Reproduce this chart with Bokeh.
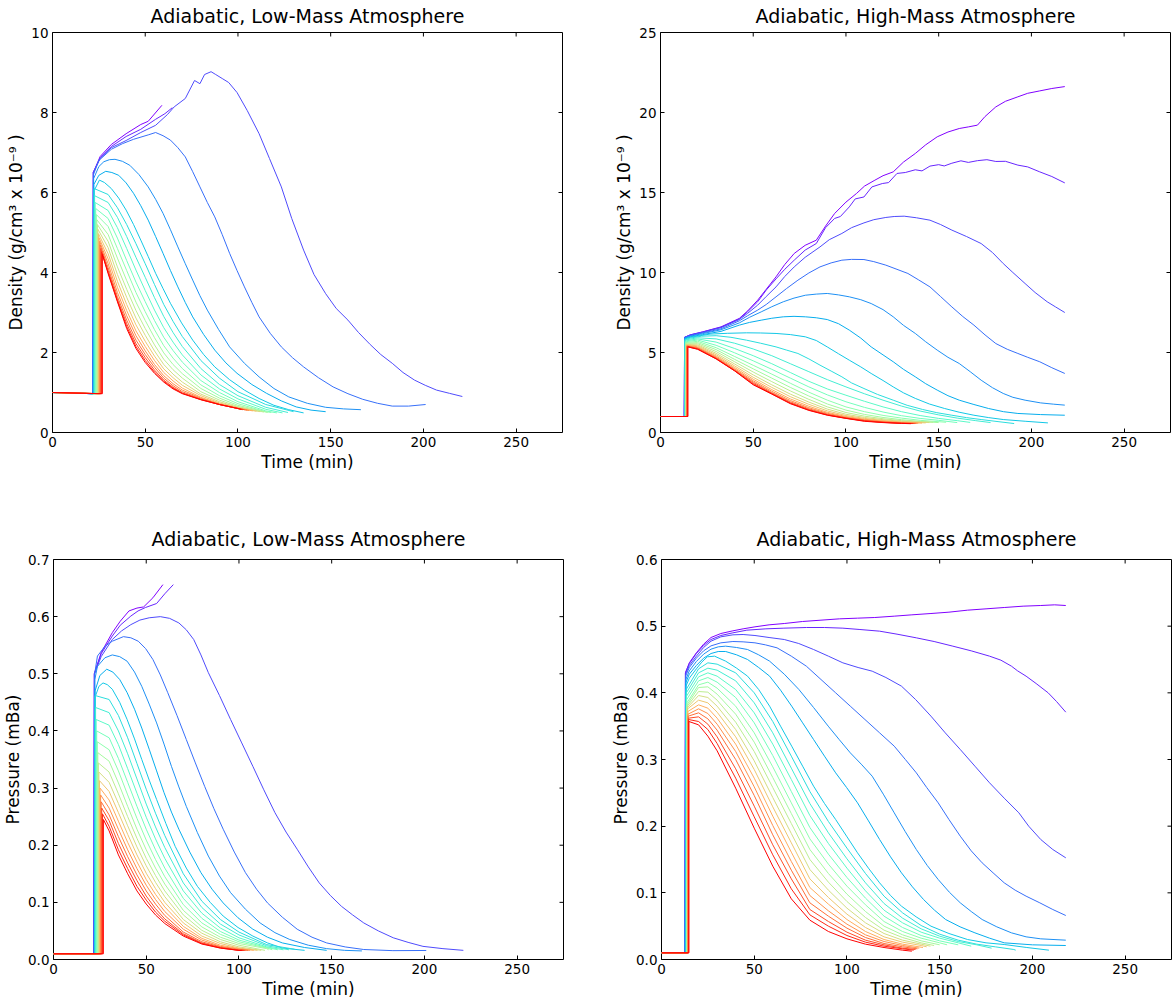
import math
from bokeh.plotting import figure
from bokeh.layouts import column, row
from bokeh.models import Range1d, FixedTicker, NumeralTickFormatter
from bokeh.embed import file_html
from bokeh.resources import INLINE

# ---------------- shared axis data ----------------
TIME_TICKS = [0, 50, 100, 150, 200, 250]
TIME_MAX = 275
TITLES = ["Adiabatic, Low-Mass Atmosphere", "Adiabatic, High-Mass Atmosphere",
          "Adiabatic, Low-Mass Atmosphere", "Adiabatic, High-Mass Atmosphere"]
XLABEL = "Time (min)"
DENSITY_LABEL = "Density (g/cm\u00b3 x 10\u207b\u2079 )"
PRESSURE_LABEL = "Pressure (mBa)"
LD_YTICKS = [0, 2, 4, 6, 8, 10]
HD_YTICKS = [0, 5, 10, 15, 20, 25]
LP_YTICKS = [0.0, 0.1, 0.2, 0.3, 0.4, 0.5, 0.6, 0.7]
HP_YTICKS = [0.0, 0.1, 0.2, 0.3, 0.4, 0.5, 0.6]

# ---------------- low-mass density: leading curves (time, value) ----------------
LD_LEAD = [
    [(0, 1.0), (21.7, 0.97), (22.0, 6.5), (25.7, 6.9), (31.7, 7.2), (39.7, 7.47), (47.6, 7.7), (51.6, 7.78), (59.0, 8.18)],
    [(0, 1.0), (21.7, 0.97), (22.0, 6.5), (25.7, 6.87), (31.7, 7.15), (39.7, 7.4), (47.6, 7.58), (55.6, 7.83), (60.6, 7.97), (64.6, 8.12)],
    [(0, 1.0), (21.7, 0.97), (22.0, 6.5), (25.7, 6.85), (31.7, 7.12), (39.7, 7.3), (47.6, 7.5), (55.6, 7.68), (62, 7.95), (65.6, 8.14),
     (71.6, 8.35), (76.6, 8.8), (79.5, 8.72), (82, 8.95), (85.5, 9.02), (88, 8.95), (91.5, 8.85), (95, 8.75), (99.5, 8.5), (105, 8.05),
     (111.4, 7.47), (117, 6.85), (123.4, 6.14), (129, 5.35), (135.4, 4.56), (141, 3.95), (147.3, 3.47), (153, 3.1), (159.3, 2.81),
     (165, 2.5), (171.3, 2.2), (177, 1.95), (183.2, 1.73), (189, 1.5), (195.2, 1.31), (201, 1.18), (207.1, 1.06), (214, 0.98), (221, 0.9)],
    [(0, 1.0), (21.8, 0.97), (22.1, 6.45), (25, 6.8), (31.7, 7.08), (37.7, 7.22), (43.7, 7.33), (51.6, 7.44), (55.6, 7.5), (59.6, 7.42),
     (63.6, 7.31), (67.6, 7.12), (71.6, 6.89), (75.6, 6.52), (79.5, 6.14), (83.5, 5.75), (87.5, 5.39), (91.5, 4.95), (95.5, 4.48),
     (99.5, 4.05), (103.5, 3.64), (107.5, 3.25), (111.4, 2.89), (117.4, 2.48), (123.4, 2.14), (129.4, 1.87), (135.4, 1.64),
     (143.4, 1.37), (151.3, 1.14), (159.3, 0.97), (167.3, 0.83), (175.3, 0.73), (183.2, 0.66), (192, 0.66), (201.2, 0.70)],
    [(0, 1.0), (21.9, 0.97), (22.2, 6.35), (25, 6.65), (27.7, 6.77), (30.7, 6.82), (33.7, 6.83), (37.7, 6.78), (41.7, 6.68), (46.6, 6.45),
     (51.6, 6.14), (55.6, 5.83), (59.6, 5.48), (63.6, 5.07), (67.6, 4.64), (71.6, 4.22), (75.6, 3.81), (79.5, 3.42), (83.5, 3.06),
     (89.5, 2.58), (95.5, 2.14), (103.5, 1.73), (111.4, 1.39), (119.4, 1.1), (127.4, 0.89), (137.4, 0.73), (147.3, 0.63), (157, 0.59), (166.3, 0.57)],
    [(0, 1.0), (22.0, 0.97), (22.3, 6.2), (25, 6.43), (28.7, 6.53), (32, 6.5), (35.7, 6.43), (39.7, 6.24), (43.7, 5.98), (47.6, 5.67),
     (51.6, 5.31), (55.6, 4.9), (59.6, 4.48), (63.6, 4.05), (67.6, 3.64), (71.6, 3.25), (75.6, 2.89), (81.5, 2.45), (87.5, 2.06),
     (93.5, 1.74), (99.5, 1.48), (107.5, 1.2), (115.4, 0.98), (123.4, 0.79), (131.4, 0.64), (139.4, 0.56), (147.3, 0.52)],
    [(0, 1.0), (22.2, 0.97), (22.5, 6.05), (25.3, 6.31), (28, 6.25), (31.7, 6.1), (35.7, 5.86), (39.7, 5.56), (43.7, 5.2), (47.6, 4.81),
     (51.6, 4.4), (55.6, 3.98), (59.6, 3.6), (63.6, 3.23), (69.6, 2.74), (75.6, 2.31), (81.5, 1.95), (87.5, 1.64), (95.5, 1.32),
     (103.5, 1.06), (111.4, 0.85), (119.4, 0.68), (127.4, 0.57), (135.4, 0.49)],
]
LD_BASE = (1.0, 0.97)
LD_GRID = [30, 35, 40, 45, 50, 55, 60, 65, 70, 80, 90, 100, 115]
# (jump time, value right after jump, values on LD_GRID, (end time, end value))
LD_BUNDLE = [
    (22.4, 6.10, [5.95, 5.62, 5.20, 4.72, 4.22, 3.70, 3.20, 2.78, 2.40, 1.80, 1.36, 1.02, 0.70], (130, 0.52)),
    (22.7, 5.92, [5.75, 5.38, 4.90, 4.38, 3.88, 3.37, 2.90, 2.50, 2.15, 1.60, 1.20, 0.92, 0.63], (127, 0.50)),
    (23.0, 5.75, [5.55, 5.12, 4.60, 4.06, 3.55, 3.06, 2.62, 2.26, 1.94, 1.44, 1.09, 0.84, 0.58], (124, 0.49)),
    (23.3, 5.60, [5.35, 4.86, 4.30, 3.76, 3.27, 2.80, 2.38, 2.05, 1.76, 1.30, 1.00, 0.77, 0.54], (121, 0.49)),
    (23.6, 5.45, [5.15, 4.60, 4.05, 3.50, 3.02, 2.57, 2.17, 1.86, 1.60, 1.19, 0.92, 0.72, 0.52], (118, 0.50)),
    (23.9, 5.32, [4.95, 4.36, 3.80, 3.26, 2.80, 2.37, 1.99, 1.70, 1.47, 1.10, 0.86, 0.68], (116, 0.50)),
    (24.2, 5.20, [4.78, 4.14, 3.58, 3.05, 2.60, 2.19, 1.83, 1.57, 1.36, 1.02, 0.81, 0.65], (114, 0.51)),
    (24.5, 5.08, [4.62, 3.95, 3.38, 2.86, 2.43, 2.04, 1.70, 1.46, 1.26, 0.96, 0.77, 0.63], (112, 0.52)),
    (24.8, 4.97, [4.47, 3.78, 3.20, 2.69, 2.28, 1.91, 1.59, 1.37, 1.18, 0.92, 0.74, 0.62], (110, 0.53)),
    (25.1, 4.87, [4.34, 3.63, 3.05, 2.54, 2.15, 1.80, 1.50, 1.29, 1.11, 0.88, 0.72, 0.61], (108, 0.54)),
    (25.4, 4.78, [4.22, 3.50, 2.92, 2.42, 2.04, 1.70, 1.42, 1.22, 1.06, 0.86, 0.71, 0.60], (106, 0.55)),
    (25.7, 4.69, [4.12, 3.40, 2.81, 2.31, 1.95, 1.63, 1.36, 1.17, 1.02, 0.84, 0.70, 0.60], (105, 0.56)),
    (26.0, 4.60, [4.05, 3.33, 2.72, 2.22, 1.87, 1.56, 1.31, 1.13, 0.99, 0.83, 0.70, 0.60], (103.5, 0.57)),
    (26.4, 4.52, [4.00, 3.29, 2.65, 2.15, 1.80, 1.51, 1.28, 1.11, 0.98, 0.82, 0.70, 0.60], (102.5, 0.57)),
    (26.9, 4.45, [3.97, 3.27, 2.60, 2.10, 1.75, 1.48, 1.26, 1.09, 0.97, 0.82, 0.70, 0.60], (101.5, 0.58)),
]

# ---------------- high-mass density ----------------
HD_LEAD = [
    [(0, 1.0), (12.8, 1.0), (13.0, 5.95), (16, 6.1), (22.7, 6.29), (32.6, 6.6), (42.5, 7.13), (47, 7.6), (52.4, 8.27), (57, 8.95),
     (62.3, 9.73), (67, 10.5), (72.1, 11.19), (78, 11.7), (84, 12.02), (89, 12.9), (93.9, 13.69), (100, 14.4), (105.7, 14.94),
     (110, 15.4), (115.6, 15.77), (120, 16.05), (125.5, 16.29), (131, 16.9), (137.4, 17.44), (143, 17.98), (149.2, 18.48),
     (155, 18.78), (161.1, 19.0), (166, 19.1), (170.9, 19.21), (175, 19.75), (180.8, 20.35), (186, 20.7), (192.7, 20.98),
     (198, 21.2), (204.5, 21.35), (211, 21.5), (218, 21.62)],
    [(0, 1.0), (12.8, 1.0), (13.0, 5.95), (16, 6.1), (22.7, 6.28), (32.6, 6.58), (42.5, 7.1), (47, 7.55), (52.4, 8.17), (57, 8.9),
     (62.3, 9.6), (67, 10.2), (72.1, 10.77), (78, 11.4), (84, 11.81), (89, 12.8), (93.9, 13.38), (97, 13.5), (101.8, 14.1),
     (105, 14.6), (109.7, 14.72), (114, 15.35), (119.6, 15.56), (123, 15.62), (127.5, 16.19), (132, 16.25), (137.4, 16.42),
     (141, 16.35), (145.3, 16.65), (150, 16.74), (153, 16.66), (157.1, 16.83), (162, 16.98), (166, 16.88), (170.9, 16.99),
     (176, 17.05), (180.8, 16.94), (186, 16.95), (192.7, 16.71), (198, 16.6), (204.5, 16.29), (211, 16.0), (218, 15.6)],
    [(0, 1.0), (12.8, 1.0), (13.0, 5.95), (16, 6.08), (22.7, 6.26), (32.6, 6.55), (42.5, 7.06), (47, 7.45), (52.4, 7.96), (57, 8.5),
     (62.3, 9.1), (67, 9.75), (72.1, 10.35), (78, 10.95), (86, 11.6), (91, 12.05), (97.8, 12.44), (103, 12.8), (109.7, 13.1),
     (115, 13.3), (121.5, 13.44), (126, 13.5), (131.4, 13.52), (138, 13.42), (145.3, 13.27), (151, 13.0), (157.1, 12.65),
     (165, 12.25), (172.9, 11.81), (179, 11.25), (184.8, 10.56), (190, 10.0), (196.6, 9.31), (202, 8.75), (208.5, 8.17),
     (213, 7.85), (218, 7.5)],
    [(0, 1.0), (12.9, 1.0), (13.1, 5.93), (16, 6.05), (22.7, 6.22), (32.6, 6.48), (42.5, 6.98), (47, 7.3), (52.4, 7.65), (57, 8.0),
     (62.3, 8.48), (68, 9.0), (74.1, 9.52), (80, 9.97), (86, 10.35), (92, 10.6), (97.8, 10.77), (103, 10.82), (109.7, 10.81),
     (115, 10.68), (121.5, 10.46), (127, 10.22), (133.4, 9.94), (139, 9.55), (145.3, 9.1), (151, 8.5), (157.1, 7.85), (163, 7.25),
     (169, 6.71), (175, 6.1), (180.8, 5.56), (187, 5.2), (192.7, 4.94), (198, 4.7), (204.5, 4.42), (211, 4.05), (218, 3.69)],
    [(0, 1.0), (12.9, 1.0), (13.1, 5.9), (16, 6.02), (22.7, 6.18), (32.6, 6.42), (42.5, 6.85), (48, 7.2), (54.3, 7.54), (60, 7.86),
     (66.2, 8.17), (72, 8.4), (78.1, 8.58), (84, 8.65), (89.9, 8.69), (96, 8.6), (101.8, 8.48), (108, 8.3), (113.6, 8.06), (120, 7.68),
     (125.5, 7.23), (131, 6.7), (137.4, 6.19), (143, 5.67), (149.2, 5.15), (155, 4.7), (161.1, 4.31), (167, 3.8), (172.9, 3.27),
     (179, 2.8), (184.8, 2.44), (190, 2.2), (196.6, 2.02), (205, 1.85), (212, 1.77), (218, 1.71)],
    [(0, 1.0), (13.0, 1.0), (13.2, 5.88), (16, 5.98), (22.7, 6.12), (32.6, 6.32), (42.5, 6.71), (48, 6.88), (54.3, 7.02), (60, 7.14),
     (66.2, 7.23), (72, 7.26), (78.1, 7.23), (84, 7.17), (89.9, 7.06), (96, 6.8), (101.8, 6.4), (108, 5.9), (113.6, 5.35), (120, 4.85),
     (125.5, 4.42), (131, 3.95), (137.4, 3.48), (143, 3.05), (149.2, 2.65), (155, 2.3), (161.1, 2.02), (169, 1.75), (176.9, 1.5),
     (185, 1.3), (192.7, 1.19), (205, 1.12), (218, 1.08)],
    [(0, 1.0), (13.0, 1.0), (13.2, 5.85), (16, 5.95), (26.7, 6.15), (36, 6.2), (46.4, 6.23), (54, 6.22), (62.3, 6.19), (70, 6.12),
     (78.1, 5.98), (84, 5.75), (89.9, 5.35), (96, 4.92), (101.8, 4.52), (108, 4.1), (113.6, 3.69), (120, 3.25), (125.5, 2.85),
     (131, 2.48), (137.4, 2.13), (145, 1.78), (153.2, 1.5), (161, 1.27), (169, 1.08), (177, 0.93), (184.8, 0.81), (197, 0.7), (208.9, 0.6)],
    [(0, 1.0), (13.1, 1.0), (13.3, 5.8), (16, 5.9), (22, 6.02), (30, 6.05), (38, 5.95), (46.4, 5.77), (54, 5.58), (62.3, 5.35),
     (68, 5.15), (74.1, 4.94), (80, 4.6), (86, 4.21), (92, 3.84), (97.8, 3.48), (103, 3.1), (109.7, 2.75), (117, 2.38), (125.5, 2.02),
     (133, 1.7), (141.3, 1.44), (149, 1.24), (157.1, 1.08), (165, 0.93), (172.9, 0.81), (182, 0.68), (190.7, 0.56)],
]
HD_BASE = (1.0, 1.0)
HD_GRID = [20, 30, 40, 50, 60, 70, 80, 90, 100, 110, 120, 130, 140, 150, 160, 170]
HD_BUNDLE = [
    (13.3, 5.78, [5.92, 5.85, 5.58, 5.22, 4.80, 4.30, 3.80, 3.30, 2.85, 2.42, 2.02, 1.65, 1.34, 1.10, 0.90, 0.74], (178, 0.62)),
    (13.4, 5.72, [5.85, 5.65, 5.25, 4.80, 4.30, 3.75, 3.20, 2.72, 2.33, 1.95, 1.60, 1.30, 1.06, 0.88, 0.74], (167, 0.63)),
    (13.5, 5.67, [5.78, 5.45, 4.98, 4.48, 3.95, 3.40, 2.85, 2.35, 1.92, 1.57, 1.28, 1.05, 0.88, 0.76], (160, 0.62)),
    (13.6, 5.62, [5.70, 5.30, 4.75, 4.20, 3.65, 3.08, 2.52, 2.02, 1.60, 1.30, 1.07, 0.90, 0.76], (154, 0.64)),
    (13.7, 5.58, [5.62, 5.18, 4.57, 3.98, 3.40, 2.82, 2.28, 1.78, 1.40, 1.13, 0.94, 0.80, 0.69], (150, 0.62)),
    (13.8, 5.54, [5.55, 5.06, 4.42, 3.78, 3.18, 2.60, 2.07, 1.60, 1.25, 1.02, 0.86, 0.74], (147, 0.64)),
    (13.9, 5.50, [5.48, 4.95, 4.28, 3.60, 2.98, 2.40, 1.90, 1.46, 1.14, 0.94, 0.80, 0.70], (145, 0.62)),
    (14.0, 5.47, [5.42, 4.86, 4.16, 3.45, 2.82, 2.24, 1.76, 1.35, 1.06, 0.88, 0.75, 0.66], (143, 0.60)),
    (14.1, 5.44, [5.36, 4.78, 4.06, 3.33, 2.68, 2.10, 1.64, 1.26, 1.00, 0.83, 0.71, 0.63], (141, 0.59)),
    (14.2, 5.42, [5.31, 4.72, 3.98, 3.23, 2.58, 2.00, 1.55, 1.20, 0.95, 0.79, 0.68, 0.61], (139, 0.58)),
    (14.3, 5.40, [5.27, 4.67, 3.92, 3.15, 2.50, 1.92, 1.48, 1.15, 0.92, 0.76, 0.66, 0.59], (138, 0.57)),
    (14.4, 5.38, [5.24, 4.63, 3.88, 3.08, 2.45, 1.86, 1.43, 1.11, 0.90, 0.74, 0.64, 0.58], (137, 0.56)),
    (14.6, 5.36, [5.22, 4.61, 3.86, 3.02, 2.42, 1.83, 1.40, 1.09, 0.89, 0.72, 0.63, 0.57], (136, 0.56)),
    (14.8, 5.35, [5.20, 4.60, 3.85, 2.98, 2.40, 1.80, 1.38, 1.08, 0.88, 0.70, 0.62, 0.57], (135, 0.55)),
]

# ---------------- low-mass pressure ----------------
LP_LEAD = [
    [(0, 0.01), (21.7, 0.01), (22.0, 0.5), (25.7, 0.537), (31.7, 0.572), (36, 0.592), (40.7, 0.61), (45, 0.615), (48.6, 0.617), (53.6, 0.633), (59, 0.656)],
    [(0, 0.01), (21.7, 0.01), (22.0, 0.5), (25.7, 0.535), (31.7, 0.566), (36, 0.585), (41.7, 0.601), (45.6, 0.61), (49.6, 0.616), (55.6, 0.623), (60, 0.64), (64.6, 0.656)],
    [(0, 0.01), (21.8, 0.01), (22.1, 0.5), (25.7, 0.53), (31.7, 0.56), (36.7, 0.575), (41.7, 0.586), (46.6, 0.594), (51.6, 0.598), (57.6, 0.6),
     (62.6, 0.597), (67.6, 0.589), (71.6, 0.577), (75.6, 0.56), (79.5, 0.533), (83.5, 0.502), (89.5, 0.462), (95.5, 0.42), (101.5, 0.379),
     (107.5, 0.338), (113.4, 0.297), (119.4, 0.257), (125.4, 0.223), (131.4, 0.193), (137.4, 0.162), (143.3, 0.134), (149.3, 0.112),
     (155.3, 0.093), (161.3, 0.078), (167.3, 0.064), (175.2, 0.05), (183.2, 0.038), (191.2, 0.03), (199.2, 0.023), (210, 0.019), (221, 0.016)],
    [(0, 0.01), (21.9, 0.01), (22.2, 0.5), (23.7, 0.531), (27.7, 0.548), (31.7, 0.557), (37.7, 0.565), (41.7, 0.563), (45.7, 0.557),
     (49.7, 0.544), (53.6, 0.525), (57.6, 0.498), (61.6, 0.467), (66.6, 0.427), (71.6, 0.385), (76.5, 0.344), (81.5, 0.303), (86.5, 0.264),
     (91.5, 0.228), (97.5, 0.188), (103.5, 0.152), (109.5, 0.123), (115.4, 0.099), (123.4, 0.074), (131.4, 0.053), (139.4, 0.039),
     (147.3, 0.029), (157.3, 0.022), (167.3, 0.0175), (183, 0.0155), (201, 0.0158)],
    [(0, 0.01), (22.0, 0.01), (22.3, 0.49), (23.7, 0.513), (27.7, 0.528), (31.7, 0.533), (35.7, 0.53), (39.7, 0.522), (43.7, 0.503),
     (47.6, 0.478), (51.6, 0.447), (55.6, 0.414), (59.6, 0.377), (63.6, 0.338), (67.6, 0.302), (71.6, 0.268), (77.6, 0.222), (83.5, 0.181),
     (89.5, 0.146), (95.5, 0.117), (103.5, 0.088), (111.4, 0.064), (119.4, 0.047), (127.4, 0.035), (137.4, 0.025), (147.3, 0.019), (157, 0.016), (166.3, 0.015)],
    [(0, 0.01), (22.1, 0.01), (22.4, 0.47), (25, 0.497), (28.7, 0.508), (32, 0.503), (35.7, 0.49), (39.7, 0.467), (43.7, 0.438), (47.6, 0.405),
     (51.6, 0.368), (55.6, 0.33), (59.6, 0.292), (63.6, 0.258), (67.6, 0.228), (73.5, 0.188), (79.5, 0.152), (85.5, 0.123), (91.5, 0.099),
     (99.5, 0.073), (107.5, 0.053), (115.4, 0.039), (123.4, 0.029), (135.4, 0.021), (147.3, 0.016)],
    [(0, 0.01), (22.2, 0.01), (22.5, 0.46), (24.5, 0.478), (26.7, 0.484), (29, 0.481), (31.7, 0.473), (35.7, 0.45), (39.7, 0.42), (43.7, 0.386),
     (47.6, 0.35), (51.6, 0.314), (55.6, 0.28), (60.6, 0.238), (65.6, 0.198), (71.6, 0.16), (77.6, 0.128), (84.5, 0.1), (91.5, 0.076),
     (99.5, 0.056), (107.5, 0.041), (115.4, 0.029), (123.4, 0.02), (135.4, 0.016)],
]
LP_BASE = (0.01, 0.01)
LP_GRID = [30, 35, 40, 45, 50, 55, 60, 70, 80, 90, 100, 115]
LP_BUNDLE = [
    (22.4, 0.462, [0.455, 0.427, 0.388, 0.343, 0.298, 0.256, 0.217, 0.150, 0.102, 0.070, 0.048, 0.026], (130, 0.018)),
    (22.7, 0.441, [0.432, 0.400, 0.360, 0.316, 0.272, 0.232, 0.196, 0.134, 0.091, 0.062, 0.043, 0.024], (127, 0.017)),
    (23.0, 0.420, [0.410, 0.376, 0.334, 0.291, 0.249, 0.211, 0.177, 0.120, 0.081, 0.055, 0.038, 0.022], (124, 0.017)),
    (23.3, 0.400, [0.388, 0.352, 0.310, 0.268, 0.228, 0.192, 0.160, 0.107, 0.072, 0.049, 0.034, 0.021], (121, 0.017)),
    (23.6, 0.381, [0.367, 0.330, 0.288, 0.247, 0.209, 0.175, 0.145, 0.096, 0.064, 0.044, 0.031, 0.020], (118, 0.017)),
    (23.9, 0.362, [0.347, 0.309, 0.268, 0.228, 0.192, 0.160, 0.132, 0.086, 0.057, 0.039, 0.028, 0.019], (116, 0.017)),
    (24.2, 0.344, [0.328, 0.290, 0.250, 0.212, 0.177, 0.147, 0.120, 0.078, 0.051, 0.035, 0.025], (114, 0.016)),
    (24.5, 0.328, [0.310, 0.273, 0.234, 0.197, 0.164, 0.135, 0.110, 0.070, 0.046, 0.031, 0.022], (112, 0.016)),
    (24.8, 0.313, [0.294, 0.257, 0.219, 0.183, 0.151, 0.124, 0.100, 0.064, 0.041, 0.028, 0.020], (110, 0.016)),
    (25.1, 0.300, [0.279, 0.242, 0.205, 0.171, 0.140, 0.114, 0.092, 0.058, 0.037, 0.025, 0.019], (108, 0.016)),
    (25.4, 0.288, [0.265, 0.228, 0.192, 0.159, 0.130, 0.105, 0.084, 0.053, 0.034, 0.023, 0.018], (106, 0.016)),
    (25.7, 0.276, [0.253, 0.215, 0.180, 0.148, 0.120, 0.097, 0.077, 0.048, 0.031, 0.022, 0.017], (105, 0.016)),
    (26.0, 0.265, [0.243, 0.203, 0.169, 0.138, 0.111, 0.089, 0.071, 0.045, 0.029, 0.021, 0.016], (103.5, 0.016)),
    (26.4, 0.255, [0.233, 0.192, 0.159, 0.128, 0.104, 0.083, 0.067, 0.043, 0.028, 0.020, 0.016], (102.5, 0.016)),
    (26.9, 0.245, [0.225, 0.183, 0.150, 0.120, 0.097, 0.078, 0.063, 0.041, 0.027, 0.020, 0.016], (101.5, 0.016)),
]

# ---------------- high-mass pressure ----------------
HP_LEAD = [
    [(0, 0.01), (12.6, 0.01), (12.9, 0.43), (15, 0.445), (18.8, 0.46), (22.7, 0.473), (26.7, 0.483), (32, 0.489), (38.5, 0.493), (44, 0.496),
     (50.4, 0.499), (58, 0.502), (66.2, 0.504), (76, 0.507), (86, 0.509), (96, 0.511), (105.7, 0.512), (115, 0.513), (125.5, 0.515),
     (135, 0.517), (145.3, 0.519), (155, 0.521), (165, 0.524), (175, 0.526), (184.8, 0.528), (195, 0.53), (204.5, 0.531), (212, 0.532), (218, 0.531)],
    [(0, 0.01), (12.6, 0.01), (12.9, 0.43), (15, 0.444), (18.8, 0.459), (22.7, 0.471), (26.7, 0.48), (32, 0.486), (38.5, 0.49), (46, 0.494),
     (56.3, 0.496), (66, 0.497), (78.1, 0.498), (88, 0.498), (97.8, 0.497), (107, 0.495), (117.6, 0.4925), (127, 0.488), (137.4, 0.4825),
     (147, 0.477), (157.1, 0.47), (167, 0.463), (176.9, 0.455), (183, 0.449), (188.7, 0.44), (192, 0.433), (196.6, 0.425), (202, 0.414),
     (208.5, 0.4), (213, 0.387), (218, 0.371)],
    [(0, 0.01), (12.7, 0.01), (13.0, 0.428), (15, 0.441), (18.8, 0.455), (22.7, 0.468), (26.7, 0.4775), (32, 0.484), (38.5, 0.487),
     (44, 0.4875), (50.4, 0.486), (58, 0.483), (66.2, 0.48), (74, 0.474), (82, 0.465), (90, 0.455), (97.8, 0.445), (106, 0.438),
     (113.6, 0.4325), (121, 0.423), (129.4, 0.41), (137, 0.39), (145.3, 0.365), (153, 0.34), (161.1, 0.315), (169, 0.29), (176.9, 0.265),
     (184.8, 0.242), (192.7, 0.22), (198, 0.2), (204.5, 0.18), (211, 0.165), (218, 0.1525)],
    [(0, 0.01), (12.7, 0.01), (13.0, 0.425), (15, 0.438), (18.8, 0.452), (22.7, 0.463), (26.7, 0.4705), (32, 0.475), (38.5, 0.477),
     (44, 0.4765), (50.4, 0.475), (56, 0.472), (62.3, 0.4675), (70, 0.455), (78.1, 0.44), (86, 0.42), (93.9, 0.4), (101.8, 0.38),
     (109.7, 0.36), (117.6, 0.34), (125.5, 0.32), (131.5, 0.3), (137.4, 0.28), (143, 0.258), (149.2, 0.235), (155, 0.21), (161.1, 0.185),
     (167, 0.163), (172.9, 0.145), (178.8, 0.13), (184.8, 0.115), (190.7, 0.104), (196.6, 0.095), (204, 0.085), (211, 0.075), (218, 0.066)],
    [(0, 0.01), (12.8, 0.01), (13.1, 0.42), (15, 0.433), (18.8, 0.447), (22.7, 0.458), (26.7, 0.4655), (30.6, 0.469), (34.6, 0.47),
     (40.5, 0.468), (46.4, 0.465), (52.4, 0.457), (58.3, 0.4475), (66.2, 0.428), (74.1, 0.405), (82, 0.378), (89.9, 0.35), (95.8, 0.33),
     (101.8, 0.31), (107.7, 0.293), (113.6, 0.275), (119.6, 0.248), (125.5, 0.22), (131.4, 0.192), (137.4, 0.165), (143.3, 0.141),
     (149.2, 0.12), (155.2, 0.101), (161.1, 0.085), (167, 0.072), (172.9, 0.06), (180.8, 0.049), (188.7, 0.04), (196.6, 0.034), (204.5, 0.031), (218, 0.029)],
    [(0, 0.01), (12.8, 0.01), (13.1, 0.415), (15, 0.428), (18.8, 0.441), (22.7, 0.452), (26.7, 0.459), (30.6, 0.462), (34.6, 0.462),
     (40.5, 0.457), (46.4, 0.45), (52.4, 0.438), (58.3, 0.425), (64.2, 0.404), (70.2, 0.38), (76.1, 0.355), (82, 0.33), (87.9, 0.305),
     (93.9, 0.28), (99.8, 0.258), (105.7, 0.235), (111.6, 0.208), (117.6, 0.18), (123.5, 0.154), (129.4, 0.13), (135.3, 0.109),
     (141.3, 0.09), (147.2, 0.074), (153.2, 0.06), (161, 0.049), (169, 0.04), (176.9, 0.032), (184.8, 0.025), (200, 0.022), (218, 0.021)],
    [(0, 0.01), (12.9, 0.01), (13.2, 0.41), (15, 0.422), (18.8, 0.436), (21.7, 0.446), (24.7, 0.454), (28.6, 0.455), (34.6, 0.4475),
     (40.5, 0.437), (46.4, 0.425), (52.4, 0.405), (58.3, 0.38), (64.2, 0.35), (70.2, 0.32), (76.1, 0.29), (82, 0.26), (87.9, 0.234),
     (93.9, 0.21), (99.8, 0.185), (105.7, 0.16), (111.6, 0.137), (117.6, 0.115), (123.5, 0.096), (129.4, 0.08), (137.3, 0.064),
     (145.3, 0.05), (155, 0.039), (165, 0.03), (175, 0.025), (184.8, 0.0225), (197, 0.018), (208.9, 0.014)],
]
HP_BASE = (0.01, 0.01)
HP_GRID = [20, 25, 30, 40, 50, 60, 70, 80, 90, 100, 110, 120, 130, 140, 150, 160, 170, 180, 190, 200]
HP_BUNDLE = [
    (13.3, 0.405, [0.436, 0.445, 0.443, 0.430, 0.400, 0.357, 0.305, 0.252, 0.207, 0.167, 0.129, 0.095, 0.070, 0.051, 0.038, 0.029, 0.023, 0.019, 0.015], (191, 0.014)),
    (13.4, 0.400, [0.430, 0.437, 0.434, 0.418, 0.385, 0.340, 0.287, 0.234, 0.190, 0.151, 0.115, 0.084, 0.062, 0.046, 0.035, 0.027, 0.022], (178, 0.017)),
    (13.5, 0.395, [0.424, 0.430, 0.425, 0.405, 0.370, 0.323, 0.270, 0.216, 0.174, 0.137, 0.103, 0.074, 0.055, 0.041, 0.032, 0.025], (167, 0.020)),
    (13.6, 0.390, [0.418, 0.423, 0.416, 0.393, 0.355, 0.306, 0.252, 0.198, 0.158, 0.123, 0.092, 0.065, 0.048, 0.036, 0.028], (160, 0.022)),
    (13.7, 0.385, [0.412, 0.416, 0.407, 0.380, 0.340, 0.289, 0.235, 0.181, 0.143, 0.110, 0.082, 0.057, 0.042, 0.032, 0.025], (154, 0.022)),
    (13.8, 0.382, [0.408, 0.409, 0.398, 0.368, 0.326, 0.273, 0.219, 0.165, 0.129, 0.098, 0.072, 0.050, 0.037, 0.028], (150, 0.022)),
    (13.9, 0.380, [0.402, 0.401, 0.389, 0.356, 0.312, 0.258, 0.204, 0.150, 0.116, 0.087, 0.063, 0.044, 0.033, 0.025], (147, 0.021)),
    (14.0, 0.378, [0.396, 0.393, 0.380, 0.345, 0.298, 0.243, 0.189, 0.135, 0.104, 0.077, 0.055, 0.039, 0.029, 0.023], (145, 0.020)),
    (14.1, 0.376, [0.389, 0.385, 0.371, 0.334, 0.285, 0.229, 0.175, 0.121, 0.093, 0.068, 0.048, 0.034, 0.026, 0.021], (143, 0.019)),
    (14.2, 0.372, [0.382, 0.377, 0.362, 0.323, 0.272, 0.215, 0.161, 0.108, 0.083, 0.060, 0.042, 0.030, 0.023], (141, 0.018)),
    (14.3, 0.368, [0.376, 0.369, 0.353, 0.312, 0.259, 0.201, 0.147, 0.096, 0.073, 0.053, 0.037, 0.027, 0.021], (139, 0.017)),
    (14.4, 0.365, [0.370, 0.361, 0.344, 0.300, 0.246, 0.187, 0.134, 0.085, 0.065, 0.047, 0.033, 0.024, 0.019], (138, 0.016)),
    (14.5, 0.362, [0.364, 0.353, 0.334, 0.286, 0.230, 0.172, 0.121, 0.075, 0.057, 0.041, 0.029, 0.022, 0.017], (137, 0.015)),
    (14.6, 0.360, [0.357, 0.345, 0.324, 0.272, 0.214, 0.157, 0.106, 0.067, 0.050, 0.036, 0.026, 0.020, 0.016], (136, 0.014)),
    (14.8, 0.357, [0.352, 0.335, 0.313, 0.257, 0.197, 0.140, 0.091, 0.059, 0.042, 0.031, 0.023, 0.018, 0.014], (135, 0.0125)),
]


def rainbow(x):
    """matplotlib 'rainbow' colormap"""
    r = min(1.0, abs(2 * x - 0.5))
    g = max(0.0, math.sin(math.pi * x))
    b = max(0.0, math.cos(math.pi * x / 2))
    return "#%02x%02x%02x" % (round(255 * r), round(255 * g), round(255 * b))


def assemble(lead, base, grid, bundle):
    curves = []
    for pts in lead:
        curves.append(([p[0] for p in pts], [p[1] for p in pts]))
    for jump, top, vals, end in bundle:
        xs = [0, jump, jump]
        ys = [base[0], base[1], top]
        for t, v in zip(grid, vals):
            if t < end[0]:
                xs.append(t)
                ys.append(v)
        xs.append(end[0])
        ys.append(end[1])
        curves.append((xs, ys))
    return curves


FONT = "DejaVu Sans"
FRAME_W, FRAME_H = 510, 400
TICK_PX = 4


def style_axis(ax, ticks, fmt, label):
    ax.ticker = FixedTicker(ticks=ticks)
    if fmt is not None:
        ax.formatter = NumeralTickFormatter(format=fmt)
    ax.axis_line_color = None
    ax.major_tick_in = TICK_PX
    ax.major_tick_out = 0
    ax.major_tick_line_color = "black"
    ax.minor_tick_line_color = None
    ax.major_label_text_font = FONT
    ax.major_label_text_color = "black"
    ax.major_label_text_font_size = "13.5px"
    ax.major_label_standoff = 4
    ax.axis_label = label
    ax.axis_label_text_font = FONT
    ax.axis_label_text_font_size = "17px"
    ax.axis_label_text_font_style = "normal"
    ax.axis_label_text_color = "black"
    ax.axis_label_standoff = 2


def make_panel(title, ylabel, ymax, yticks, yfmt, curves, top_row, left_col):
    p = figure(frame_width=FRAME_W, frame_height=FRAME_H,
               x_range=Range1d(0, TIME_MAX), y_range=Range1d(0, ymax),
               output_backend="svg", toolbar_location=None,
               min_border_left=52 if left_col else 73,
               min_border_right=25 if left_col else 4,
               min_border_top=32 if top_row else 58,
               min_border_bottom=69 if top_row else 43,
               background_fill_color="white", border_fill_color="white")
    p.title.text = title
    p.title.align = "center"
    p.title.vertical_align = "top"
    p.title.text_font = FONT
    p.title.text_font_size = "19px"
    p.title.text_font_style = "normal"
    p.title.text_color = "black"
    p.title.standoff = 8 if top_row else 15
    p.xgrid.visible = False
    p.ygrid.visible = False
    p.outline_line_color = "black"
    p.outline_line_width = 1
    p.outline_line_alpha = 1.0
    style_axis(p.xaxis[0], TIME_TICKS, None, XLABEL)
    style_axis(p.yaxis[0], yticks, yfmt, ylabel)

    n = len(curves)
    for i, (xs, ys) in enumerate(curves):
        p.line(xs, ys, line_color=rainbow(i / (n - 1)), line_width=1)

    # inward ticks on the top and right edges (matplotlib classic style)
    dy = ymax * TICK_PX / FRAME_H
    dx = TIME_MAX * TICK_PX / FRAME_W
    p.segment(x0=TIME_TICKS, x1=TIME_TICKS, y0=[ymax] * len(TIME_TICKS),
              y1=[ymax - dy] * len(TIME_TICKS), line_color="black", line_width=1)
    p.segment(x0=[TIME_MAX] * len(yticks), x1=[TIME_MAX - dx] * len(yticks),
              y0=yticks, y1=yticks, line_color="black", line_width=1)
    return p


p1 = make_panel(TITLES[0], DENSITY_LABEL, 10, LD_YTICKS, None,
                assemble(LD_LEAD, LD_BASE, LD_GRID, LD_BUNDLE), True, True)
p2 = make_panel(TITLES[1], DENSITY_LABEL, 25, HD_YTICKS, None,
                assemble(HD_LEAD, HD_BASE, HD_GRID, HD_BUNDLE), True, False)
p3 = make_panel(TITLES[2], PRESSURE_LABEL, 0.7, LP_YTICKS, "0.0",
                assemble(LP_LEAD, LP_BASE, LP_GRID, LP_BUNDLE), False, True)
p4 = make_panel(TITLES[3], PRESSURE_LABEL, 0.6, HP_YTICKS, "0.0",
                assemble(HP_LEAD, HP_BASE, HP_GRID, HP_BUNDLE), False, False)

layout = column(row(p1, p2), row(p3, p4))
open("out.html", "w").write(file_html(layout, INLINE, title="Adiabatic atmospheres"))
